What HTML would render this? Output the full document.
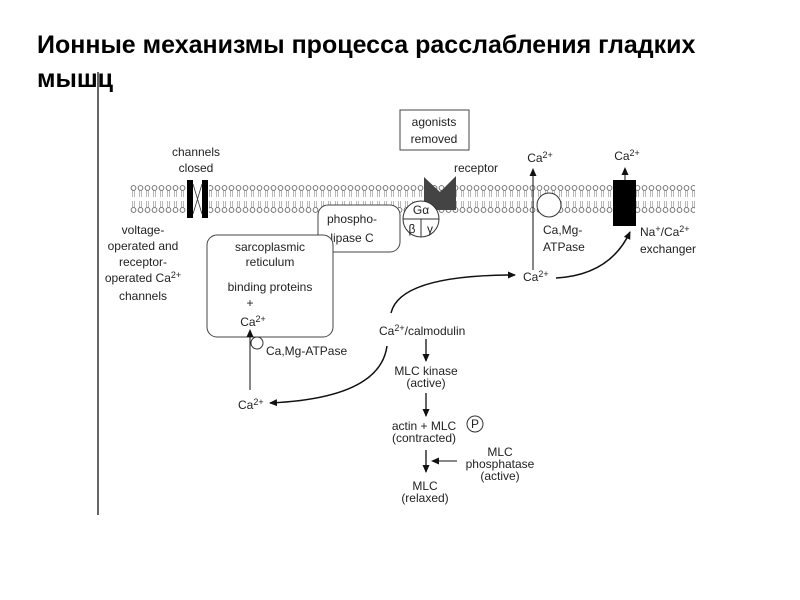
<!DOCTYPE html>
<html><head><meta charset="utf-8"><style>
body{margin:0;background:#fff;width:800px;height:600px;overflow:hidden;font-family:"Liberation Sans",sans-serif}
.t{position:absolute;left:37px;top:28px;font-size:25px;font-weight:bold;color:#000;line-height:34px;width:720px}
svg{position:absolute;left:0;top:0}
text{font-family:"Liberation Sans",sans-serif;font-size:12px;fill:#222}
</style></head><body>
<div class="t">Ионные механизмы процесса расслабления гладких мышц</div>
<svg width="800" height="600" viewBox="0 0 800 600">
<defs>
<pattern id="lip" x="130" y="182" width="7" height="34" patternUnits="userSpaceOnUse">
<circle cx="3.5" cy="6" r="2.4" fill="#fff" stroke="#666" stroke-width="0.9"/>
<path d="M2.6 8.5 L2.6 15 M4.4 8.5 L4.4 15 M2.6 19 L2.6 25.5 M4.4 19 L4.4 25.5" stroke="#999" stroke-width="0.7"/>
<circle cx="3.5" cy="28" r="2.4" fill="#fff" stroke="#666" stroke-width="0.9"/>
</pattern>
<marker id="ar" markerWidth="8" markerHeight="8" refX="7" refY="4" orient="auto" markerUnits="userSpaceOnUse"><path d="M0 0.5 L8 4 L0 7.5Z" fill="#111"/></marker>
</defs>
<line x1="98" y1="72" x2="98" y2="515" stroke="#000" stroke-width="1.2"/>
<rect x="130" y="182" width="565" height="34" fill="url(#lip)"/>
<rect x="186" y="180" width="23" height="38" fill="#fff"/>
<rect x="187" y="180" width="6" height="38" fill="#000"/><rect x="202" y="180" width="6" height="38" fill="#000"/>
<path d="M193 184 L202 214 M202 184 L193 214" stroke="#333" stroke-width="0.8"/>
<text x="196" y="156" text-anchor="middle">channels</text>
<text x="196" y="172" text-anchor="middle">closed</text>
<text x="143" y="234" text-anchor="middle">voltage-</text>
<text x="143" y="250" text-anchor="middle">operated and</text>
<text x="143" y="266" text-anchor="middle">receptor-</text>
<text x="143" y="282" text-anchor="middle">operated Ca<tspan font-size="9" dy="-4">2+</tspan></text>
<text x="143" y="300" text-anchor="middle">channels</text>
<rect x="400" y="110" width="69" height="40" fill="#fff" stroke="#444"/>
<text x="434" y="126" text-anchor="middle">agonists</text>
<text x="434" y="143" text-anchor="middle">removed</text>
<path d="M424 177 L440 192 L456 176 L456 210 L424 210Z" fill="#444"/>
<text x="454" y="172">receptor</text>
<rect x="318" y="205" width="82" height="47" rx="10" fill="#fff" stroke="#444"/>
<text x="352" y="223" text-anchor="middle">phospho-</text>
<text x="352" y="242" text-anchor="middle">lipase C</text>
<circle cx="421" cy="219" r="18" fill="#fff" stroke="#333"/>
<line x1="403" y1="219" x2="439" y2="219" stroke="#333"/><line x1="421" y1="219" x2="421" y2="237" stroke="#333"/>
<text x="421" y="214" text-anchor="middle" font-family="Liberation Serif">Gα</text>
<text x="412" y="233" text-anchor="middle" font-size="11">β</text><text x="430" y="233" text-anchor="middle" font-size="11">γ</text>
<circle cx="549" cy="205" r="12" fill="#fff" stroke="#333"/>
<line x1="533" y1="270" x2="533" y2="169" stroke="#111" marker-end="url(#ar)"/>
<text x="540" y="162" text-anchor="middle">Ca<tspan font-size="9" dy="-4">2+</tspan></text>
<text x="543" y="234">Ca,Mg-</text><text x="543" y="251">ATPase</text>
<rect x="613" y="180" width="23" height="46" fill="#000"/>
<line x1="625" y1="180" x2="625" y2="168" stroke="#111" marker-end="url(#ar)"/>
<text x="627" y="160" text-anchor="middle">Ca<tspan font-size="9" dy="-4">2+</tspan></text>
<text x="640" y="236">Na<tspan font-size="9" dy="-4">+</tspan><tspan dy="4">/Ca</tspan><tspan font-size="9" dy="-4">2+</tspan></text>
<text x="640" y="253">exchanger</text>
<text x="523" y="281">Ca<tspan font-size="9" dy="-4">2+</tspan></text>
<path d="M556 278 Q610 275 630 232" fill="none" stroke="#111" stroke-width="1.5" marker-end="url(#ar)"/>
<rect x="207" y="235" width="126" height="102" rx="10" fill="#fff" stroke="#444"/>
<text x="270" y="251" text-anchor="middle">sarcoplasmic</text>
<text x="270" y="266" text-anchor="middle">reticulum</text>
<text x="270" y="291" text-anchor="middle">binding proteins</text>
<text x="250" y="307" text-anchor="middle">+</text>
<text x="253" y="326" text-anchor="middle">Ca<tspan font-size="9" dy="-4">2+</tspan></text>
<circle cx="257" cy="343" r="6" fill="#fff" stroke="#333"/>
<text x="266" y="355">Ca,Mg-ATPase</text>
<line x1="250" y1="390" x2="250" y2="330" stroke="#111" marker-end="url(#ar)"/>
<text x="238" y="409">Ca<tspan font-size="9" dy="-4">2+</tspan></text>
<path d="M387 346 Q380 398 270 403" fill="none" stroke="#111" stroke-width="1.5" marker-end="url(#ar)"/>
<path d="M391 313 Q400 275 515 275" fill="none" stroke="#111" stroke-width="1.5" marker-end="url(#ar)"/>
<text x="379" y="335">Ca<tspan font-size="9" dy="-4">2+</tspan><tspan dy="4">/calmodulin</tspan></text>
<line x1="426" y1="339" x2="426" y2="361" stroke="#111" stroke-width="1.3" marker-end="url(#ar)"/>
<text x="426" y="375" text-anchor="middle">MLC  kinase</text>
<text x="426" y="387" text-anchor="middle">(active)</text>
<line x1="426" y1="393" x2="426" y2="416" stroke="#111" stroke-width="1.3" marker-end="url(#ar)"/>
<text x="424" y="430" text-anchor="middle">actin + MLC</text>
<text x="424" y="442" text-anchor="middle">(contracted)</text>
<circle cx="475" cy="424" r="8" fill="#fff" stroke="#333"/><text x="475" y="428" text-anchor="middle" font-size="11">P</text>
<line x1="426" y1="450" x2="426" y2="472" stroke="#111" stroke-width="1.3" marker-end="url(#ar)"/>
<line x1="457" y1="461" x2="432" y2="461" stroke="#111" marker-end="url(#ar)"/>
<text x="500" y="456" text-anchor="middle">MLC</text>
<text x="500" y="468" text-anchor="middle">phosphatase</text>
<text x="500" y="480" text-anchor="middle">(active)</text>
<text x="425" y="490" text-anchor="middle">MLC</text>
<text x="425" y="502" text-anchor="middle">(relaxed)</text>
</svg>
</body></html>
